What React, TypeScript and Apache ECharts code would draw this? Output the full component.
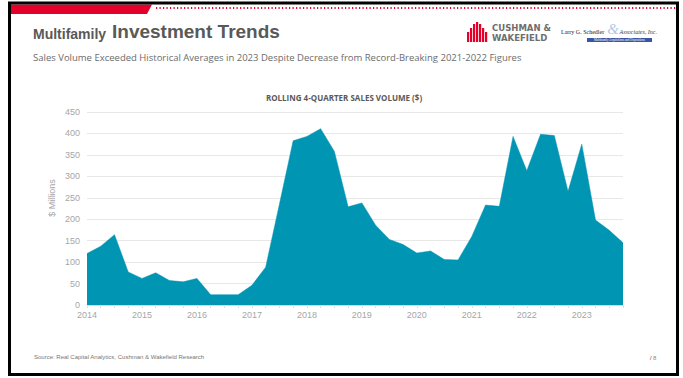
import React, { useEffect, useRef } from "react";
import * as echarts from "echarts";

const years = ["2014", "2015", "2016", "2017", "2018", "2019", "2020", "2021", "2022", "2023"];
const quarters = ["Q1", "Q2", "Q3", "Q4"];
const categories: string[] = years.flatMap((y) => quarters.map((q) => `${y} ${q}`));
const salesVolume = [
  120, 137, 164, 77,
  62, 75, 57, 54,
  62, 24, 24, 24,
  46, 88, 235, 383,
  393, 411, 358, 229,
  238, 186, 153, 141,
  121, 126, 106, 105,
  160, 233, 230, 393,
  313, 398, 395, 265,
  375, 198, 174, 145,
];
const yTicks = { min: 0, max: 450, interval: 50 };

const cwBars = [
  [0, 10], [3, 14], [6, 18], [9, 20], [12, 18], [15, 14], [18, 10],
];

export default function App() {
  const ref = useRef<HTMLDivElement>(null);
  useEffect(() => {
    if (!ref.current) return;
    const chart = echarts.init(ref.current, null, { renderer: "svg" });
    const gray = "#a6a6a6";
    const graphic: any[] = [
      { type: "rect", shape: { x: 9.5, y: 3, width: 668, height: 371.5 }, style: { fill: "none", stroke: "#000", lineWidth: 3 }, z: 10 },
      { type: "polygon", shape: { points: [[11, 4.5], [152, 4.5], [147, 14], [11, 14]] }, style: { fill: "#e4002b" } },
      { type: "line", shape: { x1: 156, y1: 8, x2: 676, y2: 8 }, style: { stroke: "#e4002b", lineWidth: 2, lineDash: [1.2, 2.3] } },
      { type: "text", x: 33, y: 41, style: { text: "Multifamily", font: "600 14px 'Liberation Sans'", fill: "#595959", textVerticalAlign: "bottom" } },
      { type: "text", x: 112, y: 41, style: { text: "Investment Trends", font: "bold 19px 'Liberation Sans'", fill: "#595959", textVerticalAlign: "bottom" } },
      { type: "text", x: 33, y: 57, style: { text: "Sales Volume Exceeded Historical Averages in 2023 Despite Decrease from Record-Breaking 2021-2022 Figures", font: "9.5px 'Open Sans'", fill: "#6b6b6b", textVerticalAlign: "middle" } },
      { type: "text", x: 344, y: 97, style: { text: "ROLLING 4-QUARTER SALES VOLUME ($)", font: "bold 8px 'Open Sans'", fill: "#595959", textAlign: "center", textVerticalAlign: "middle" } },
      { type: "text", x: 52, y: 198, rotation: Math.PI / 2, style: { text: "$ Millions", font: "9px 'Liberation Sans'", fill: gray, textAlign: "center", textVerticalAlign: "middle" } },
      { type: "text", x: 34, y: 357, style: { text: "Source: Real Capital Analytics, Cushman & Wakefield Research", font: "6px 'Liberation Sans'", fill: "#777", textVerticalAlign: "middle" } },
      { type: "text", x: 650, y: 358, style: { text: "/", font: "6px 'Liberation Sans'", fill: "#e4002b", textVerticalAlign: "middle" } },
      { type: "text", x: 653, y: 358, style: { text: "8", font: "6px 'Liberation Sans'", fill: "#888", textVerticalAlign: "middle" } },
      // Cushman & Wakefield logo
      ...cwBars.map(([dx, h]) => ({ type: "rect", shape: { x: 467 + dx, y: 42 - h, width: 2.2, height: h }, style: { fill: "#e4002b" } })),
      { type: "text", x: 492, y: 28, style: { text: "CUSHMAN &", font: "bold 8.5px 'DejaVu Sans'", fill: "#6e6e6e", textVerticalAlign: "middle" } },
      { type: "text", x: 492, y: 37.5, style: { text: "WAKEFIELD", font: "bold 8.5px 'DejaVu Sans'", fill: "#6e6e6e", textVerticalAlign: "middle" } },
      // Larry G. Schedler logo
      { type: "text", x: 561, y: 32, style: { text: "Larry G. Schedler", font: "6px 'Liberation Serif'", fill: "#222", textVerticalAlign: "middle" } },
      { type: "text", x: 613, y: 28.5, style: { text: "&", font: "italic 15px 'Liberation Serif'", fill: "#b3c7e6", textAlign: "center", textVerticalAlign: "middle" } },
      { type: "text", x: 619.5, y: 32, style: { text: "Associates, Inc.", font: "italic 6px 'Liberation Serif'", fill: "#444", textVerticalAlign: "middle" } },
      { type: "rect", shape: { x: 587, y: 38, width: 65, height: 4 }, style: { fill: "#3a55a5" } },
      { type: "text", x: 619.5, y: 40, style: { text: "Multifamily Acquisitions and Dispositions", font: "3px 'Liberation Serif'", fill: "#fff", textAlign: "center", textVerticalAlign: "middle" } },
    ];
    chart.setOption({
      animation: false,
      backgroundColor: "#fff",
      graphic,
      grid: { left: 87, right: 60, top: 112, bottom: 73, containLabel: false },
      xAxis: {
        type: "category",
        data: categories,
        boundaryGap: false,
        axisLine: { lineStyle: { color: "#d9d9d9" } },
        axisTick: { show: true, interval: 0, length: 3, lineStyle: { color: "#e0e0e0" } },
        axisLabel: { interval: 3, formatter: (v: string) => v.slice(0, 4), color: gray, fontSize: 9, fontFamily: "Liberation Sans", margin: 5 },
        splitLine: { show: false },
      },
      yAxis: {
        type: "value",
        min: yTicks.min,
        max: yTicks.max,
        interval: yTicks.interval,
        axisLine: { show: false },
        axisTick: { show: false },
        axisLabel: { color: gray, fontSize: 9, fontFamily: "Liberation Sans", margin: 7 },
        splitLine: { lineStyle: { color: "#e8e8e8", width: 1 } },
      },
      series: [
        {
          type: "line",
          data: salesVolume,
          symbol: "none",
          lineStyle: { width: 0.5, color: "#0095b3" },
          areaStyle: { color: "#0095b3", opacity: 1 },
        },
      ],
    });
    return () => chart.dispose();
  }, []);
  return <div ref={ref} style={{ position: "fixed", left: 0, top: 0, width: 683, height: 378 }} />;
}
